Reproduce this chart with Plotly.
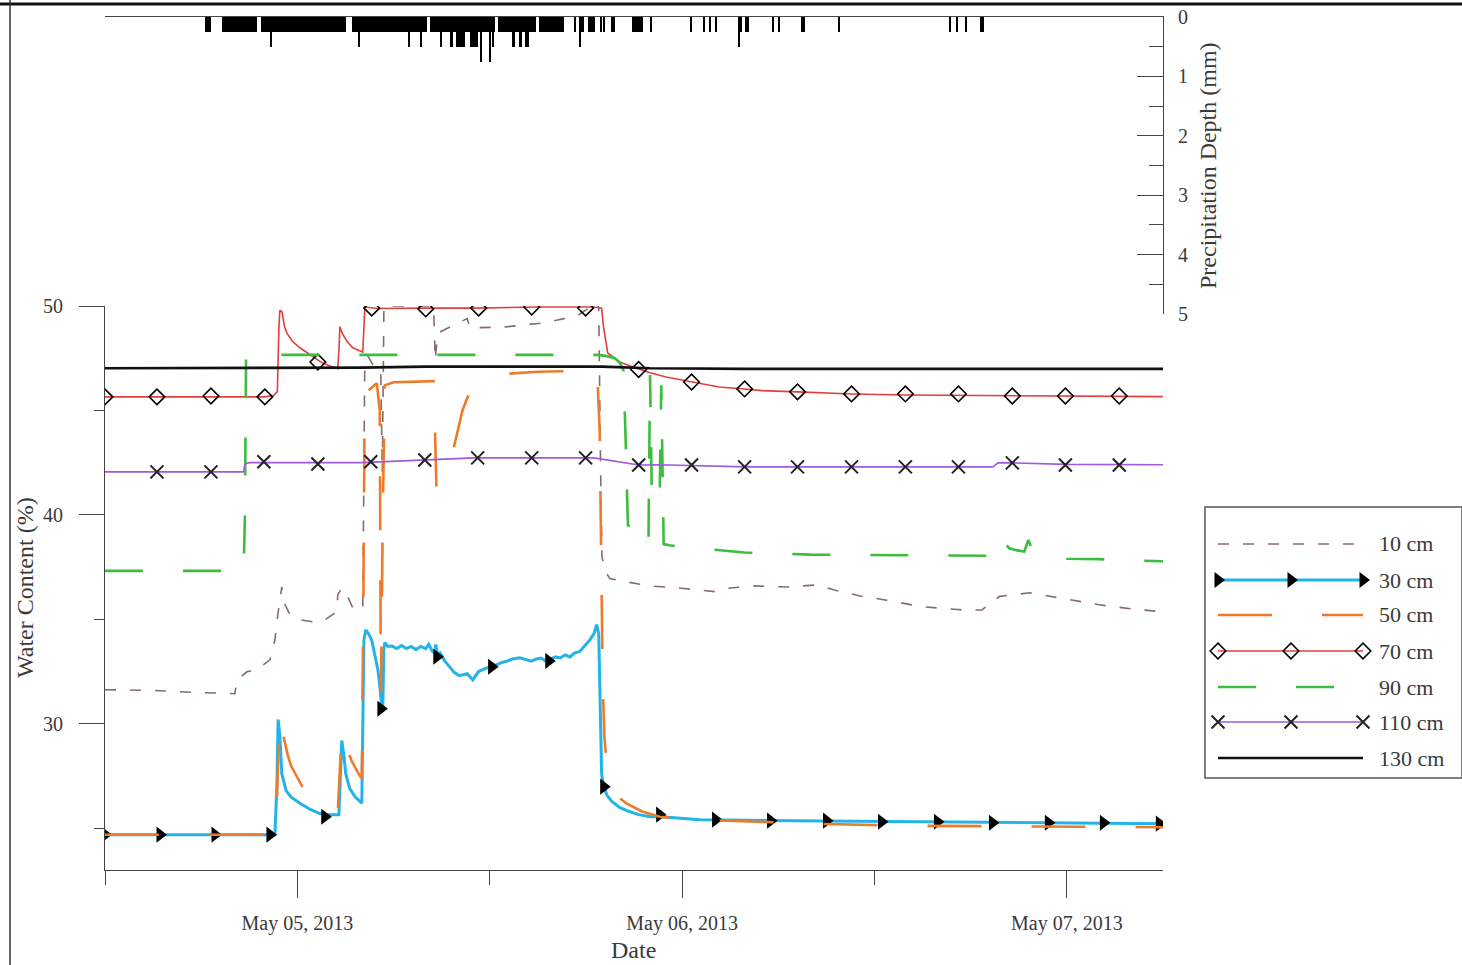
import pandas as pd
import plotly.graph_objects as go

START = pd.Timestamp("2013-05-04 12:00")

# ---------------- data (hours since 2013-05-04 12:00, water content %) ----------------
t10 = [0, 3, 5, 7, 8.1, 8.23, 8.85, 9.48, 10.29, 10.6, 10.78, 11.03, 11.1, 11.53, 12.16, 12.97, 13.53,
       14.46, 14.52, 14.77, 15.09, 15.46, 15.9, 16.08, 16.2, 16.4, 16.7, 17.2, 17.3, 17.4, 20.5, 20.6,
       20.75, 22.6, 22.75, 25, 27.5, 29.5, 30.55, 30.67, 30.8, 30.92, 31.0, 31.2, 31.5, 32.1, 34.0, 35.8,
       37.1, 38.1, 39.0, 40.5, 42.5, 44.5, 45.5, 47.1, 48.5, 51.0, 53.5, 54.7, 55.2, 55.8, 57.7, 59.0,
       60.5, 62.0, 64.0, 66.0]
v10 = [31.63, 31.6, 31.52, 31.46, 31.44, 32.1, 32.49, 32.58, 33.06, 34.02, 35.22, 36.56, 35.93, 35.22,
       34.98, 34.88, 34.88, 35.36, 36.17, 36.51, 36.17, 35.55, 35.41, 35.5, 46.8, 47.6, 47.2, 47.0, 42.0,
       50.0, 50.0, 47.4, 48.7, 49.4, 48.95, 49.0, 49.2, 49.55, 50.1, 50.3, 49.9, 42.0, 38.0, 37.3, 36.95,
       36.85, 36.6, 36.5, 36.41, 36.32, 36.5, 36.6, 36.55, 36.65, 36.4, 36.12, 35.95, 35.6, 35.45, 35.45,
       35.75, 36.1, 36.27, 36.1, 35.9, 35.7, 35.5, 35.36]

t30 = [0, 10.6, 10.72, 10.8, 10.9, 11.03, 11.3, 11.6, 12.16, 12.8, 13.4, 14.0, 14.59, 14.68, 14.77,
       14.9, 15.02, 15.27, 15.6, 16.02, 16.08, 16.15, 16.27, 16.45, 16.64, 16.85, 17.02, 17.14, 17.27,
       17.33, 17.39, 17.45, 17.64, 17.9, 18.2, 18.5, 18.8, 19.1, 19.4, 19.7, 20.0, 20.2, 20.4, 20.57,
       20.63, 20.75, 20.9, 21.2, 21.5, 21.8, 22.1, 22.4, 22.6, 22.94, 23.3, 23.6, 23.9, 24.2, 24.5, 24.8,
       25.1, 25.4, 25.87, 26.3, 26.6, 26.9, 27.2, 27.5, 27.8, 28.1, 28.4, 28.7, 29.0, 29.3, 29.6, 29.9,
       30.23, 30.5, 30.67, 30.8, 30.86, 30.92, 30.98, 31.11, 31.3, 31.6, 32.1, 32.7, 33.3, 34.0, 34.6,
       35.5, 37.1, 40.0, 43.2, 48.0, 52.0, 56.0, 60.0, 66.0]
v30 = [24.69, 24.69, 27.0, 30.2, 29.5, 27.6, 26.8, 26.5, 26.2, 25.9, 25.7, 25.65, 25.65, 27.5, 29.2,
       28.5, 27.6, 26.9, 26.5, 26.2, 30.0, 34.0, 34.5, 34.3, 34.0, 33.2, 32.6, 31.8, 30.8, 30.7, 33.5,
       33.9, 33.7, 33.72, 33.6, 33.75, 33.6, 33.7, 33.55, 33.7, 33.6, 33.8, 33.5, 33.4, 33.8, 33.3, 33.4,
       33.0, 32.7, 32.45, 32.3, 32.35, 32.4, 32.1, 32.5, 32.6, 32.7, 32.75, 32.85, 32.95, 33.0, 33.1,
       33.16, 33.05, 33.0, 33.1, 33.15, 33.0, 33.1, 33.2, 33.15, 33.3, 33.2, 33.4, 33.45, 33.7, 34.0,
       34.3, 34.75, 34.3, 32.0, 28.5, 27.6, 27.0, 26.6, 26.3, 26.0, 25.8, 25.65, 25.55, 25.55, 25.5,
       25.41, 25.38, 25.36, 25.32, 25.3, 25.27, 25.25, 25.22]

t50 = [0, 10.66, 10.75, 10.9, 11.1, 11.4, 11.6, 12.3, 13.0, 13.3, 14.52, 14.65, 14.78, 15.0, 15.4,
       15.9, 16.02, 16.12, 16.2, 16.5, 16.96, 17.14, 17.21, 17.33, 17.45, 18.0, 20.5, 20.57, 20.68,
       21.0, 21.3, 21.6, 22.0, 22.3, 22.6, 22.9, 23.3, 23.8, 25.0, 27.0, 29.0, 30.7, 30.86, 30.95,
       31.05, 31.15, 31.3, 31.45, 31.7, 32.5, 33.5, 34.6, 36.0, 38.0, 41.0, 45.0, 50.0, 55.0, 60.0, 66.0]
v50 = [24.69, 24.69, 27.0, 30.4, 29.5, 28.5, 28.0, 27.0, 26.2, 25.95, 25.8, 27.5, 29.7, 29.0, 28.2,
       27.5, 27.4, 36.0, 45.8, 46.0, 46.3, 45.0, 31.5, 40.0, 46.2, 46.35, 46.4, 44.5, 41.2, 41.5, 41.9,
       42.7, 44.0, 45.0, 45.6, 46.1, 46.4, 46.6, 46.75, 46.85, 46.88, 46.9, 44.0, 37.0, 32.0, 29.4,
       28.0, 27.1, 26.7, 26.2, 25.8, 25.55, 25.45, 25.38, 25.3, 25.2, 25.12, 25.1, 25.08, 25.05]

t70 = [0, 9.9, 10.5, 10.75, 10.85, 10.91, 11.05, 11.2, 11.35, 11.7, 12.16, 12.97, 13.5, 14.03, 14.52,
       14.6, 14.65, 14.8, 15.1, 15.46, 16.08, 16.21, 17.0, 20.0, 23.0, 27.0, 30.5, 30.98, 31.1, 31.36,
       32.1, 33.3, 34.0, 35.0, 36.6, 38.3, 39.9, 41.0, 43.2, 46.6, 50.0, 55.0, 60.0, 66.0]
v70 = [45.65, 45.65, 45.7, 45.9, 49.0, 49.8, 49.7, 49.0, 48.7, 48.3, 48.0, 47.56, 47.3, 47.13, 47.0,
       48.0, 49.0, 48.7, 48.3, 48.0, 47.8, 49.95, 49.88, 49.9, 49.9, 49.95, 49.95, 49.9, 49.0, 47.75,
       47.32, 46.99, 46.8, 46.6, 46.36, 46.12, 46.03, 45.95, 45.89, 45.79, 45.74, 45.71, 45.69, 45.66]

t90 = [0, 8.65, 8.73, 8.8, 12.0, 16.0, 20.0, 24.0, 28.0, 30.8, 31.3, 31.8, 32.1, 32.35, 32.5, 32.62,
       33.3, 33.54, 33.9, 34.0, 34.12, 34.6, 34.7, 34.85, 35.2, 36.0, 37.1, 38.3, 39.9, 42.0, 44.0, 47.0,
       50.0, 53.0, 55.3, 55.55, 55.67, 55.9, 56.1, 56.4, 56.9, 57.35, 57.6, 57.8, 58.5, 60.0, 62.0, 64.0,
       66.0]
v90 = [37.32, 37.32, 40.0, 47.66, 47.66, 47.66, 47.66, 47.66, 47.66, 47.66, 47.6, 47.5, 47.3, 46.9,
       43.0, 39.5, 39.4, 39.2, 38.5, 46.7, 40.5, 40.8, 46.2, 38.6, 38.55, 38.45, 38.4, 38.3, 38.2, 38.15,
       38.1, 38.08, 38.06, 38.04, 38.04, 38.9, 39.0, 38.8, 38.7, 38.4, 38.3, 38.25, 38.8, 38.4, 38.0,
       37.9, 37.88, 37.82, 37.78]

t110 = [0, 8.65, 8.73, 9.0, 12.0, 16.0, 17.5, 20.0, 23.0, 30.5, 31.5, 33.3, 34.5, 36.6, 40.0, 45.0,
        50.0, 55.4, 55.7, 56.6, 60.0, 66.0]
v110 = [42.06, 42.06, 42.45, 42.5, 42.5, 42.5, 42.55, 42.63, 42.73, 42.73, 42.6, 42.39, 42.4, 42.35,
        42.3, 42.3, 42.3, 42.3, 42.49, 42.49, 42.42, 42.4]

t130 = [0, 10, 16, 20, 27, 31, 34, 40, 66]
v130 = [47.02, 47.03, 47.05, 47.1, 47.12, 47.1, 47.02, 46.99, 46.99]

# marker positions
m30_t = [0, 3.43, 6.86, 10.29, 13.71, 17.21, 20.70, 24.12, 27.68, 31.11, 34.60, 38.09, 41.52, 45.01,
         48.44, 51.93, 55.36, 58.85, 62.28, 65.77]
m30_v = [24.69, 24.69, 24.69, 24.69, 25.55, 30.72, 33.21, 32.73, 33.01, 26.99, 25.65, 25.41, 25.36,
         25.36, 25.31, 25.31, 25.26, 25.26, 25.26, 25.22]
m70_t = [0, 3.24, 6.61, 9.97, 13.28, 16.64, 20.01, 23.31, 26.62, 29.98, 33.29, 36.59, 39.90, 43.20,
         46.57, 49.93, 53.24, 56.60, 59.91, 63.27]
m70_v = [45.65, 45.65, 45.69, 45.65, 47.32, 49.90, 49.86, 49.90, 49.95, 49.90, 46.96, 46.36, 46.03,
         45.89, 45.79, 45.79, 45.79, 45.69, 45.69, 45.69]
m110_t = [3.24, 6.61, 9.91, 13.28, 16.58, 19.95, 23.25, 26.62, 29.98, 33.29, 36.59, 39.90, 43.20,
          46.57, 49.93, 53.24, 56.60, 59.91, 63.27]
m110_v = [42.06, 42.06, 42.54, 42.44, 42.54, 42.63, 42.73, 42.73, 42.73, 42.39, 42.39, 42.30, 42.30,
          42.30, 42.30, 42.30, 42.49, 42.39, 42.39]

# precipitation intervals (hours since start) and depth (mm)
p_start = [6.23, 7.32, 9.72, 15.40, 20.26, 24.50, 27.06, 29.26, 29.61, 30.11, 30.94, 31.07, 31.54,
           32.85, 34.00, 36.55, 37.36, 37.74, 38.11, 39.46, 39.90, 41.66, 42.04, 43.39, 45.78, 52.70,
           53.14, 53.70, 54.61,
           10.31, 15.79, 18.91, 19.66, 20.91, 21.51, 21.90, 22.75, 24.15, 25.37, 25.80, 26.20, 29.57,
           39.54,
           23.40, 23.96]
p_end = [6.61, 9.48, 15.02, 20.07, 24.31, 26.87, 28.61, 29.34, 29.86, 30.55, 31.02, 31.15, 31.79,
         33.54, 34.08, 36.63, 37.44, 37.82, 38.19, 39.71, 40.15, 41.74, 42.12, 43.64, 45.86, 52.78,
         53.22, 53.78, 54.86,
         10.39, 15.87, 18.99, 19.74, 20.99, 21.70, 22.44, 23.25, 24.23, 25.60, 26.00, 26.43, 29.65,
         39.62,
         23.48, 24.04]
p_mm = [0.254] * 29 + [0.508] * 14 + [0.762] * 2

# ---------------- styling ----------------
W, H = 1462, 965
FONT = "Liberation Serif, Times New Roman, serif"
TXT = "#3a3a3a"
AX = "#444444"
X_RANGE = ["2013-05-04 12:00", "2013-05-07 06:00"]


def tt(hours):
    return [START + pd.Timedelta(hours=h) for h in hours]


series = [
    dict(name="10 cm", t=t10, v=v10, color="#866c6c", width=1.6, dash="11px,14px"),
    dict(name="30 cm", t=t30, v=v30, color="#22b4e8", width=3.0, dash="solid"),
    dict(name="50 cm", t=t50, v=v50, color="#ee7a2a", width=2.6, dash="54px,50px"),
    dict(name="70 cm", t=t70, v=v70, color="#e0403c", width=1.6, dash="solid"),
    dict(name="90 cm", t=t90, v=v90, color="#3dbd3d", width=2.6, dash="38px,40px"),
    dict(name="110 cm", t=t110, v=v110, color="#a05ada", width=1.6, dash="solid"),
    dict(name="130 cm", t=t130, v=v130, color="#111111", width=2.6, dash="solid"),
]
markers = {
    "30 cm": dict(t=m30_t, v=m30_v, symbol="triangle-right", size=14,
                  marker=dict(color="black", line=dict(width=0))),
    "70 cm": dict(t=m70_t, v=m70_v, symbol="diamond-open", size=12,
                  marker=dict(color="black", line=dict(width=1.6, color="black"))),
    "110 cm": dict(t=m110_t, v=m110_v, symbol="x-thin-open", size=13,
                   marker=dict(color="#222", line=dict(width=2, color="#222"))),
}

fig = go.Figure()

# precipitation bars (hanging from the top axis)
centers = [START + pd.Timedelta(hours=(a + b) / 2) for a, b in zip(p_start, p_end)]
widths = [(b - a) * 3600 * 1000 for a, b in zip(p_start, p_end)]
fig.add_trace(go.Bar(x=centers, y=p_mm, width=widths, base=0, xaxis="x2", yaxis="y2",
                     marker=dict(color="black", line=dict(width=0)), showlegend=False,
                     name="Precipitation"))

for s in series:
    fig.add_trace(go.Scatter(x=tt(s["t"]), y=s["v"], mode="lines", name=s["name"],
                             line=dict(color=s["color"], width=s["width"], dash=s["dash"]),
                             showlegend=False))
    if s["name"] in markers:
        m = markers[s["name"]]
        mk = dict(symbol=m["symbol"], size=m["size"], **m["marker"])
        fig.add_trace(go.Scatter(x=tt(m["t"]), y=m["v"], mode="markers", marker=mk,
                                 showlegend=False, name=s["name"]))

# ---- hand-made legend on its own little axes ----
leg_y = [0.8635, 0.7306, 0.6015, 0.4686, 0.3358, 0.2066, 0.0738]
lx0, lx1, lxm, ltx = 0.0506, 0.6148, 0.3346, 0.670
for s, y in zip(series, leg_y):
    fig.add_trace(go.Scatter(x=[lx0, lx1], y=[y, y], mode="lines", xaxis="x3", yaxis="y3",
                             line=dict(color=s["color"], width=s["width"], dash=s["dash"]),
                             showlegend=False, hoverinfo="skip"))
    if s["name"] in markers:
        m = markers[s["name"]]
        mk = dict(symbol=m["symbol"], size=m["size"], **m["marker"])
        fig.add_trace(go.Scatter(x=[lx0, lxm, lx1], y=[y, y, y], mode="markers", xaxis="x3",
                                 yaxis="y3", marker=mk, showlegend=False, hoverinfo="skip"))

annotations = [
    dict(text=s["name"], x=ltx, y=y, xref="x3", yref="y3", xanchor="left", yanchor="middle",
         showarrow=False, font=dict(family=FONT, size=22, color=TXT))
    for s, y in zip(series, leg_y)
]
annotations += [
    dict(text="Water Content (%)", x=25 / W, y=1 - 588 / H, xref="paper", yref="paper",
         xanchor="center", yanchor="middle",
         textangle=-90, showarrow=False, font=dict(family=FONT, size=24, color=TXT)),
    dict(text="Precipitation Depth (mm)", x=1208 / W, y=1 - 166 / H, xref="paper", yref="paper",
         xanchor="center", yanchor="middle",
         textangle=-90, showarrow=False, font=dict(family=FONT, size=24, color=TXT)),
    dict(text="Date", x=633 / W, y=1 - 950 / H, xref="paper", yref="paper",
         xanchor="center", yanchor="middle",
         showarrow=False, font=dict(family=FONT, size=24, color=TXT)),
]

xdom = [105 / W, 1163 / W]
tickfont = dict(family=FONT, size=20, color=TXT)

fig.update_layout(
    width=W, height=H, autosize=False,
    margin=dict(l=0, r=0, t=0, b=0, pad=0, autoexpand=False),
    paper_bgcolor="white", plot_bgcolor="rgba(0,0,0,0)",
    bargap=0,
    xaxis=dict(domain=xdom, anchor="y", type="date", range=X_RANGE, showline=True, linecolor=AX,
               linewidth=1.2, ticks="outside", ticklen=27, tickwidth=1.2, tickcolor=AX,
               tick0="2013-05-05", dtick=86400000, tickformat="%b %d, %Y", tickfont=tickfont,
               ticklabelstandoff=8, showgrid=False, zeroline=False, automargin=False,
               minor=dict(dtick=43200000, tick0="2013-05-04 12:00", ticks="outside", ticklen=14,
                          tickwidth=1.2, tickcolor=AX, showgrid=False)),
    yaxis=dict(domain=[1 - 870 / H, 1 - 306 / H], anchor="x", range=[23, 50], showline=True,
               linecolor=AX, linewidth=1.2, ticks="outside", ticklen=25, tickwidth=1.2,
               tickcolor=AX, tick0=0, dtick=10, tickfont=tickfont, ticklabelstandoff=12,
               showgrid=False, zeroline=False, automargin=False,
               minor=dict(dtick=5, ticks="outside", ticklen=10, tickwidth=1.2, tickcolor=AX,
                          showgrid=False)),
    xaxis2=dict(domain=xdom, anchor="y2", type="date", range=X_RANGE, side="top", showline=True,
                linecolor=AX, linewidth=1.4, ticks="", showticklabels=False, showgrid=False,
                zeroline=False, automargin=False),
    yaxis2=dict(domain=[1 - 314 / H, 1 - 17 / H], anchor="x2", side="right", range=[5, 0],
                showline=True, linecolor=AX, linewidth=1.2, ticks="inside", ticklen=26,
                tickwidth=1.2, tickcolor=AX, dtick=1, tickfont=tickfont, ticklabelstandoff=10,
                showgrid=False, zeroline=False, automargin=False,
                minor=dict(dtick=0.5, ticks="inside", ticklen=14, tickwidth=1.2, tickcolor=AX,
                           showgrid=False)),
    xaxis3=dict(domain=[1205 / W, 1.0], anchor="y3", range=[0, 1], visible=False, automargin=False),
    yaxis3=dict(domain=[1 - 778 / H, 1 - 507 / H], anchor="x3", range=[0, 1], visible=False,
                automargin=False),
    annotations=annotations,
    shapes=[
        dict(type="rect", xref="paper", yref="paper", x0=1205 / W, x1=1.0,
             y0=1 - 778 / H, y1=1 - 507 / H, line=dict(color="#555", width=1.5)),
        dict(type="line", xref="paper", yref="paper", x0=0, x1=1, y0=1 - 4 / H, y1=1 - 4 / H,
             line=dict(color="#111", width=3)),
        dict(type="line", xref="paper", yref="paper", x0=10 / W, x1=10 / W, y0=0, y1=1,
             line=dict(color="#333", width=1.5)),
    ],
)

fig.write_html("out.html")
